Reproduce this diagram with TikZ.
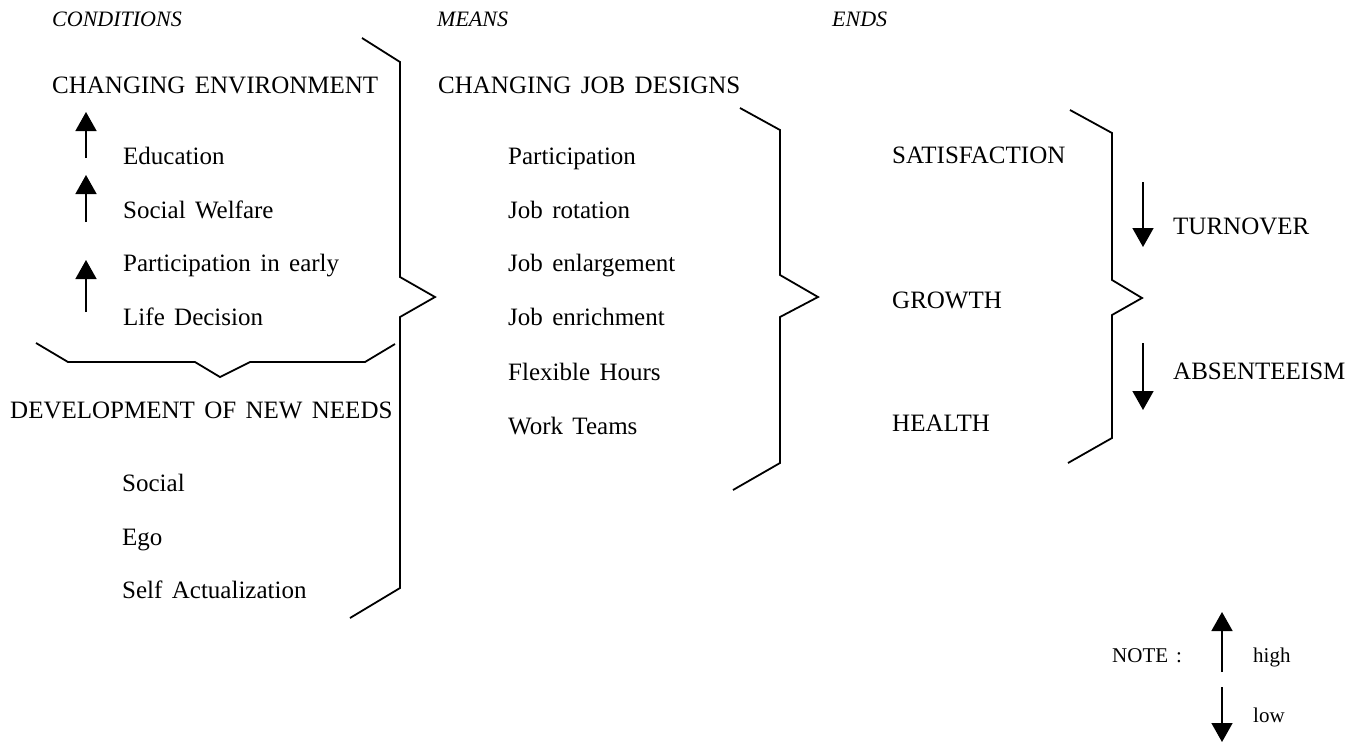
\documentclass[tikz,border=0pt]{standalone}
\usepackage{fontspec}
\setmainfont{Liberation Serif}[WordSpace=1.5]
\usetikzlibrary{arrows.meta}
\begin{document}
\begin{tikzpicture}[x=1pt,y=-1pt,
  lbl/.style={anchor=base west,inner sep=0pt,font=\fontsize{25}{30}\selectfont},
  hd/.style={anchor=base west,inner sep=0pt,font=\fontsize{22}{26}\selectfont\itshape},
  brace/.style={line width=1.8pt,line join=miter},
  arr/.style={line width=1.6pt,-{Triangle[width=21pt,length=19pt]}}]
\useasboundingbox (0,0) rectangle (1357,747);
% headings
\node[hd] (hcond) at (52,26) {CONDITIONS};
\node[hd] (hmeans) at (437,26) {MEANS};
\node[hd] (hends) at (832,26) {ENDS};
% conditions
\node[lbl] (ce) at (52,93) {CHANGING ENVIRONMENT};
\node[lbl] (edu) at (123,164) {Education};
\node[lbl] (sw) at (123,218) {Social Welfare};
\node[lbl] (pie) at (123,271) {Participation in early};
\node[lbl] (ld) at (123,325) {Life Decision};
\coordinate (a1b) at (86,158); \coordinate (a1t) at (86,112);
\coordinate (a2b) at (86,222); \coordinate (a2t) at (86,175);
\coordinate (a3b) at (86,312); \coordinate (a3t) at (86,260);
\draw[arr] (a1b) -- (a1t);
\draw[arr] (a2b) -- (a2t);
\draw[arr] (a3b) -- (a3t);
\draw[brace] (36,343) -- (68,362) -- (195,362) -- (220,377) -- (250,362) -- (365,362) -- (395,344);
\node[lbl] (dnn) at (10,418) {DEVELOPMENT OF NEW NEEDS};
\node[lbl] (soc) at (122,491) {Social};
\node[lbl] (ego) at (122,545) {Ego};
\node[lbl] (sa) at (122,598) {Self Actualization};
\draw[brace] (362,38) -- (400,62) -- (400,277) -- (435,297) -- (400,317) -- (400,588) -- (350,618);
% means
\node[lbl] (cjd) at (438,93) {CHANGING JOB DESIGNS};
\node[lbl] (m1) at (508,164) {Participation};
\node[lbl] (m2) at (508,218) {Job rotation};
\node[lbl] (m3) at (508,271) {Job enlargement};
\node[lbl] (m4) at (508,325) {Job enrichment};
\node[lbl] (m5) at (508,380) {Flexible Hours};
\node[lbl] (m6) at (508,434) {Work Teams};
\draw[brace] (740,108) -- (780,130) -- (780,275) -- (818,297) -- (780,317) -- (780,463) -- (733,490);
% ends
\node[lbl] (sat) at (892,163) {SATISFACTION};
\node[lbl] (gro) at (892,308) {GROWTH};
\node[lbl] (hea) at (892,431) {HEALTH};
\draw[brace] (1070,110) -- (1112,133) -- (1112,280) -- (1142,298) -- (1112,315) -- (1112,438) -- (1068,463);
\coordinate (d1t) at (1143,182); \coordinate (d1b) at (1143,247);
\coordinate (d2t) at (1143,343); \coordinate (d2b) at (1143,410);
\draw[arr] (d1t) -- (d1b);
\draw[arr] (d2t) -- (d2b);
\node[lbl] (turn) at (1173,234) {TURNOVER};
\node[lbl] (abs) at (1173,379) {ABSENTEEISM};
% note
\node[lbl,font=\fontsize{21}{25}\selectfont] (note) at (1112,662) {NOTE :};
\coordinate (nub) at (1222,672); \coordinate (nut) at (1222,612);
\coordinate (ndt) at (1222,687); \coordinate (ndb) at (1222,742);
\draw[arr] (nub) -- (nut);
\draw[arr] (ndt) -- (ndb);
\node[lbl,font=\fontsize{21}{25}\selectfont] (high) at (1253,662) {high};
\node[lbl,font=\fontsize{21}{25}\selectfont] (low) at (1253,722) {low};
\end{tikzpicture}
\end{document}
